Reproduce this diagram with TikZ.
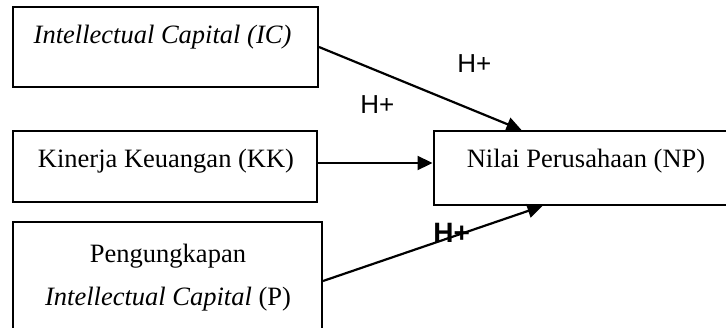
\documentclass[tikz,border=0pt]{standalone}
\usepackage{fontspec}
\setmainfont{Liberation Serif}
\newfontfamily\hsans{Liberation Sans}
\usetikzlibrary{arrows.meta,calc}
\begin{document}
\begin{tikzpicture}[x=0.5pt,y=-0.5pt,
  box/.style={draw,line width=1pt,inner sep=0pt,rectangle},
  txt/.style={font=\fontsize{13.25}{21}\selectfont,inner sep=0pt,anchor=base},
  hl/.style={font=\hsans\fontsize{13}{15}\selectfont,inner sep=0pt,anchor=base west},
  hlb/.style={font=\hsans\bfseries\fontsize{14}{16}\selectfont,inner sep=0pt,anchor=base west},
  arr/.style={-{Triangle[length=7.5pt,width=7pt]},line width=1.1pt}]
\useasboundingbox (0,0) rectangle (726,327);
\clip (0,0) rectangle (726,327);
% boxes
\node[box,minimum width=152.5pt,minimum height=40pt] (IC) at (165.5,47) {};
\node[box,minimum width=152pt,minimum height=35.5pt] (KK) at (165,166.5) {};
\node[box,minimum width=153pt,minimum height=37pt] (NP) at (586.5,168) {};
\node[box,minimum width=154.5pt,minimum height=59pt] (P) at (167.5,281) {};
% texts
\node[txt] (tIC) at (162.5,43) {\itshape Intellectual Capital (IC)};
\node[txt] (tKK) at (166,167) {Kinerja Keuangan (KK)};
\node[txt] (tNP) at (586,167) {Nilai Perusahaan (NP)};
\node[txt] (tP1) at (168,262.5) {Pengungkapan};
\node[txt] (tP2) at (168,305) {\textit{Intellectual Capital} (P)};
% arrows
\coordinate (e1) at ($(NP.north west)+(89,0)$);
\coordinate (e3) at ($(NP.south west)+(110,0)$);
\draw[arr] (IC.east) -- (e1);
\draw[arr] ($(KK.east)+(0,-3.5)$) -- ($(NP.west)+(0,-5)$);
\draw[arr] (P.east) -- (e3);
% labels
\node[hl] (h1) at (457,72) {H+};
\node[hl] (h2) at (360,113) {H+};
\node[hlb] (h3) at (433,242) {H+};
\end{tikzpicture}
\end{document}
